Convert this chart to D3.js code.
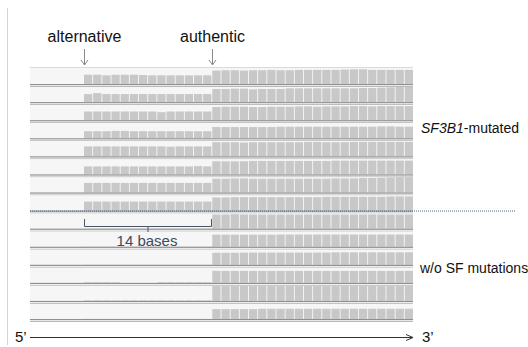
<!DOCTYPE html>
<html><head><meta charset="utf-8">
<script src="https://cdn.jsdelivr.net/npm/d3@7"></script>
<style>
html,body{margin:0;padding:0;background:#fff;}
svg{display:block;font-family:"Liberation Sans",Arial,sans-serif;}
</style></head>
<body><svg id="c" width="528" height="347"></svg>
<script>
// ---- data ----
const markerLabels = ["alternative", "authentic"];
const markerPositions = [0, 14];           // base index of the two 3' splice sites
const basesBetween = "14 bases";
const groupLabels = ["SF3B1", "-mutated", "w/o SF mutations"];
const endLabels = ["5\u2019", "3\u2019"];
const mutatedRows = 8;                    // first 8 tracks: SF3B1-mutated

// coverage (relative, 0-100) for the 14 bases between alternative and authentic site
const altCoverage = [
  [58,58,54,58,58,58,56,54,54,54,54,54,54,54],
  [50,56,50,50,50,50,50,50,50,50,50,50,50,50],
  [54,54,54,54,54,54,54,54,50,54,54,54,54,54],
  [44,44,44,46,46,44,44,44,44,44,44,44,44,44],
  [62,62,62,62,62,62,62,62,62,60,62,62,62,62],
  [50,50,50,50,50,50,50,50,50,50,50,50,52,50],
  [60,60,60,60,60,60,60,60,60,60,60,60,60,60],
  [56,56,56,56,56,56,56,56,56,56,56,56,56,56],
  [1,1,1,1,1,1,1,1,1,1,1,1,1,1],
  [1,1,1,1,1,1,1,1,1,1,1,1,1,1],
  [1,1,1,1,1,1,1,1,1,1,1,1,1,1],
  [4,4,4,4,0,0,0,0,4,4,4,4,4,4],
  [4,4,4,4,4,4,4,4,4,4,4,4,4,4],
  [1,1,1,1,1,1,1,1,1,1,1,1,1,1]
];
// coverage for the 22 bases downstream of the authentic site
const authCoverage = [
  [84,86,86,84,86,86,88,86,86,88,88,88,88,88,90,92,92,88,88,88,88,88],
  [82,82,84,84,80,82,82,82,86,86,86,86,86,86,86,86,88,88,90,92,94,94],
  [82,84,84,84,82,82,84,84,84,86,86,84,86,86,86,88,88,86,88,88,88,88],
  [70,70,70,70,70,70,70,72,72,72,72,72,72,72,72,72,72,72,74,74,72,72],
  [88,88,88,86,88,88,88,88,88,88,90,90,88,88,88,90,90,90,90,90,90,90],
  [82,82,82,82,84,84,84,84,84,84,84,84,84,86,86,86,86,86,86,86,86,86],
  [86,86,88,88,86,86,86,86,86,86,86,86,86,88,88,88,90,90,92,94,96,96],
  [82,82,84,84,84,84,84,84,84,84,84,84,86,86,86,86,86,86,86,88,88,88],
  [88,88,90,88,88,88,88,88,88,88,88,88,88,88,88,88,88,88,88,88,88,88],
  [75,75,75,75,75,75,75,76,76,76,76,76,76,76,76,76,76,76,76,76,76,76],
  [75,75,75,76,76,76,76,76,76,76,76,76,76,78,78,78,78,78,78,78,78,78],
  [75,75,75,75,75,75,75,75,75,75,75,75,75,75,75,75,75,75,75,75,75,75],
  [94,94,94,94,94,94,94,94,94,94,94,94,94,94,94,94,94,94,94,94,94,94],
  [62,62,62,62,62,64,64,64,64,64,64,64,64,64,64,64,64,64,64,64,64,64]
];

// ---- layout ----
const svg = d3.select("#c");
const nBases = altCoverage[0].length + authCoverage[0].length;
const panelLeft = 30, panelRight = 413;
const x = d3.scaleBand().domain(d3.range(nBases)).range([84, 413]).paddingInner(0.1).paddingOuter(0);
const rowIdx = d3.range(altCoverage.length);
const firstBase = 84, lastBase = 319;
const step = (lastBase - firstBase) / (rowIdx.length - 1);
const baseline = i => firstBase + i * step;
const h = d3.scaleLinear().domain([0, 100]).range([0, 16]);

// left border line
svg.append("line").attr("x1", 7.5).attr("x2", 7.5).attr("y1", 8).attr("y2", 345)
  .attr("stroke", "#d4d4d4").attr("stroke-width", 1);

// panels
const rows = svg.selectAll("g.row").data(rowIdx).join("g").attr("class", "row");
rows.append("rect")
  .attr("x", panelLeft).attr("width", panelRight - panelLeft)
  .attr("y", i => i === 0 ? 67 : baseline(i - 1) + 3)
  .attr("height", i => baseline(i) - (i === 0 ? 67 : baseline(i - 1) + 3))
  .attr("fill", "#f6f6f6");
svg.append("line").attr("x1", panelLeft).attr("x2", panelRight).attr("y1", 67.5).attr("y2", 67.5)
  .attr("stroke", "#dadada");

// bars
rows.each(function(i) {
  const vals = altCoverage[i].concat(authCoverage[i]);
  d3.select(this).selectAll("rect.bar").data(vals).join("rect").attr("class", "bar")
    .attr("x", (d, k) => x(k)).attr("width", x.bandwidth())
    .attr("y", d => baseline(i) - h(d)).attr("height", d => h(d))
    .attr("fill", "#c8c8c8");
});

// separators
rows.append("rect").attr("x", panelLeft).attr("width", panelRight - panelLeft)
  .attr("y", i => baseline(i)).attr("height", 1.2).attr("fill", "#8f8f8f");
rows.append("rect").attr("x", panelLeft).attr("width", panelRight - panelLeft)
  .attr("y", i => baseline(i) + 2).attr("height", 1).attr("fill", "#b8b8b8");

// dotted divider between groups
const divY = baseline(mutatedRows - 1) + 0.5;
svg.append("line").attr("x1", panelLeft).attr("x2", 516).attr("y1", divY).attr("y2", divY)
  .attr("stroke", "#55607a").attr("stroke-width", 1).attr("stroke-dasharray", "1,1");

// marker labels and arrows
const markerX = markerPositions.map(p => x(p));
markerLabels.forEach((t, k) => {
  const mx = Math.round(markerX[k]) + 0.5;
  svg.append("text").attr("x", mx).attr("y", 42).attr("text-anchor", "middle")
    .attr("font-size", 16).attr("fill", "#111").text(t);
  svg.append("path").attr("d", `M${mx},49V65M${mx-3.5},60L${mx},65L${mx+3.5},60`)
    .attr("fill", "none").attr("stroke", "#8a8a8a").attr("stroke-width", 1);
});

// bracket "14 bases"
const bx0 = Math.round(markerX[0]) + 0.5, bx1 = Math.round(markerX[1]) - 0.5;
const bmid = (bx0 + bx1) / 2;
svg.append("path").attr("d", `M${bx0},219V226.5H${bx1}V219M${bmid},226.5V232`)
  .attr("fill", "none").attr("stroke", "#4a5568").attr("stroke-width", 1);
svg.append("text").attr("x", bmid - 1).attr("y", 246).attr("text-anchor", "middle")
  .attr("font-size", 15).attr("fill", "#3e4a5e").text(basesBetween);

// group labels
const g1 = svg.append("text").attr("x", 421).attr("y", 133).attr("font-size", 14).attr("fill", "#111");
g1.append("tspan").attr("font-style", "italic").text(groupLabels[0]);
g1.append("tspan").text(groupLabels[1]);
svg.append("text").attr("x", 420).attr("y", 273).attr("font-size", 14).attr("fill", "#111").text(groupLabels[2]);

// 5' -> 3' axis
svg.append("path").attr("d", `M${panelLeft},337.5H${panelRight}M${panelRight-7},334.5L${panelRight},337.5L${panelRight-7},340.5`)
  .attr("fill", "none").attr("stroke", "#333").attr("stroke-width", 1);
svg.append("text").attr("x", 15).attr("y", 342).attr("font-size", 15).attr("fill", "#111").text(endLabels[0]);
svg.append("text").attr("x", 422).attr("y", 342).attr("font-size", 15).attr("fill", "#111").text(endLabels[1]);
</script>
</body></html>
